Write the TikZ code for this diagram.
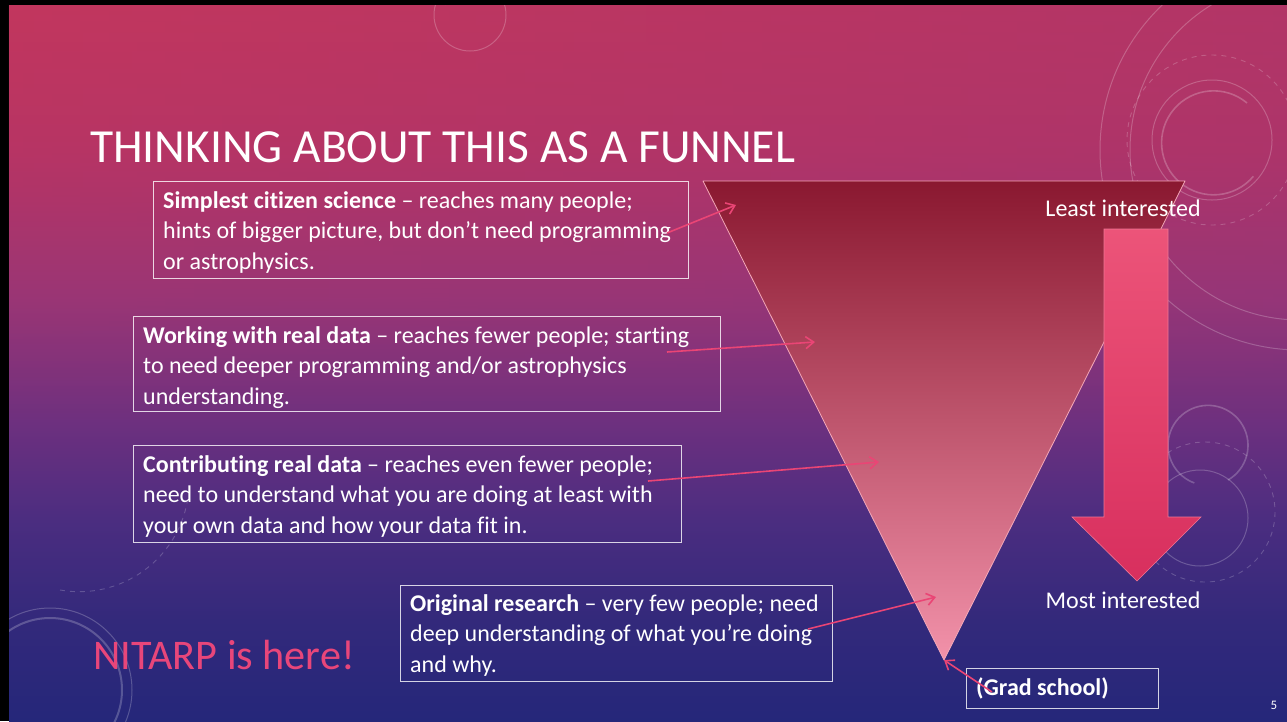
\documentclass[tikz,border=0pt]{standalone}
\usepackage{fontspec}
\setmainfont{Carlito}[Ligatures={NoCommon}]
\usetikzlibrary{arrows.meta,fadings}

% palette
\definecolor{bgA}{HTML}{C2365E}
\definecolor{bgB}{HTML}{B43466}
\definecolor{bgC}{HTML}{953578}
\definecolor{bgD}{HTML}{6E307F}
\definecolor{bgE}{HTML}{4B2D80}
\definecolor{bgF}{HTML}{33297B}
\definecolor{bgG}{HTML}{25277A}
\definecolor{funnelTop}{HTML}{8A1830}
\definecolor{funnelBot}{HTML}{F292AA}
\definecolor{funnelEdge}{HTML}{F4A8B8}
\definecolor{arrowTop}{HTML}{EC5479}
\definecolor{arrowBot}{HTML}{D82F5E}
\definecolor{pointer}{HTML}{EA4575}
\definecolor{nitarp}{HTML}{E8467A}

\tikzset{
  infobox/.style={draw=white, draw opacity=0.8, line width=1pt, inner sep=0pt},
  infotext/.style={text=white, align=left, anchor=north west, inner sep=0pt,
    font=\fontsize{24}{30.5}\selectfont},
  sidelabel/.style={text=white, inner sep=0pt, font=\fontsize{24}{29}\selectfont},
  pointerline/.style={draw=pointer, line width=1.6pt, -{Straight Barb[length=8pt,width=12pt,line width=1.6pt]}},
  ornament/.style={draw=white, opacity=0.22, line width=1pt},
  ornamentdash/.style={draw=white, opacity=0.2, line width=0.9pt, dash pattern=on 5pt off 5pt},
}

\begin{document}
\begin{tikzpicture}[x=1pt,y=-1pt]
\useasboundingbox (0,0) rectangle (1287,721);

% slide background, banded vertical gradient
\fill[black] (0,0) rectangle (1287,721);
\shade[top color=bgA, bottom color=bgB] (9,5) rectangle (1287,151);
\shade[top color=bgB, bottom color=bgC] (9,150) rectangle (1287,301);
\shade[top color=bgC, bottom color=bgD] (9,300) rectangle (1287,421);
\shade[top color=bgD, bottom color=bgE] (9,420) rectangle (1287,521);
\shade[top color=bgE, bottom color=bgF] (9,520) rectangle (1287,621);
\shade[top color=bgF, bottom color=bgG] (9,620) rectangle (1287,721);
% violet tint toward the right of the upper part, fading out downwards
\shade[left color=bgA, right color=bgC, opacity=0.35, path fading=south]
  (9,5) rectangle (1287,420);

% faint ornaments
\begin{scope}
\clip (9,5) rectangle (1287,721);
\draw[ornament] (470,15) circle[radius=36];
\draw[ornament, line width=1.4pt] (445,5) arc[start angle=180, end angle=300, radius=30];
\draw[ornament] (1300,150) circle[radius=200];
\draw[ornament] (1300,150) circle[radius=170];
\draw[ornament, line width=1.6pt] (1247,103) arc[start angle=-50, end angle=-320, radius=52];
\draw[ornament] (1212,140) circle[radius=60];
\draw[ornamentdash] (1212,140) circle[radius=85];
\draw[ornament, line width=1.6pt] (1228,480) arc[start angle=60, end angle=-250, radius=40];
\draw[ornament] (1200,518) circle[radius=48];
\draw[ornamentdash] (1205,512) circle[radius=70];
\draw[ornament, line width=2pt] (50,690) circle[radius=72];
\draw[ornament] (50,690) circle[radius=82];
\draw[ornamentdash] (60,590) arc[start angle=100, end angle=10, radius=110];
\end{scope}

% funnel
\coordinate (fTL) at (703,181);
\coordinate (fTR) at (1185,181);
\coordinate (fTip) at (944,660);
\shade[top color=funnelTop, bottom color=funnelBot] (fTL) -- (fTR) -- (fTip) -- cycle;
\draw[funnelEdge, line width=0.8pt, line join=round] (fTL) -- (fTR) -- (fTip) -- cycle;

% interest arrow
\shade[top color=arrowTop, bottom color=arrowBot, draw=arrowTop!80!white, line width=0.6pt]
  (1104,229) -- (1168,229) -- (1168,517) -- (1201,517) -- (1137,581)
  -- (1072,517) -- (1104,517) -- cycle;

\node[sidelabel] (least) at (1123,208) {Least interested};
\node[sidelabel] (most) at (1123,600) {Most interested};

% title
\node[text=white, anchor=west, inner sep=0pt, font=\fontsize{47.5}{52}\selectfont]
  (title) at (90,147) {THINKING ABOUT THIS AS A FUNNEL};

% level boxes
\node[infobox, minimum width=535pt, minimum height=97pt] (box1) at (420.5,229.5) {};
\node[infobox, minimum width=587pt, minimum height=95pt] (box2) at (426.5,363.5) {};
\node[infobox, minimum width=548pt, minimum height=97pt] (box3) at (407,493.5) {};
\node[infobox, minimum width=432pt, minimum height=96pt] (box4) at (616,633) {};
\node[infobox, minimum width=192pt, minimum height=40pt] (box5) at (1062,688) {};

\node[infotext] (text1) at (163,191) {\textbf{Simplest citizen science} – reaches many people;\\
hints of bigger picture, but don’t need programming\\ or astrophysics.};
\node[infotext] (text2) at (143,326) {\textbf{Working with real data} – reaches fewer people; starting\\
to need deeper programming and/or astrophysics\\ understanding.};
\node[infotext] (text3) at (143,455) {\textbf{Contributing real data} – reaches even fewer people;\\
need to understand what you are doing at least with\\ your own data and how your data fit in.};
\node[infotext] (text4) at (410,594) {\textbf{Original research} – very few people; need\\
deep understanding of what you’re doing\\ and why.};
\node[sidelabel, anchor=west] (grad) at (976,688) {\textbf{(Grad school)}};

\node[text=nitarp, anchor=west, inner sep=0pt, font=\fontsize{42.2}{48}\selectfont]
  (here) at (93,655) {NITARP is here!};

% pointers into the funnel
\coordinate (p1s) at (667,233);
\coordinate (p1e) at (736,205);
\coordinate (p2s) at (667,352);
\coordinate (p2e) at (815,342);
\coordinate (p3s) at (648,481);
\coordinate (p3e) at (879,462);
\coordinate (p4s) at (808,629);
\coordinate (p4e) at (936,597);
\coordinate (p5s) at (992,692);
\draw[pointerline] (p1s) -- (p1e);
\draw[pointerline] (p2s) -- (p2e);
\draw[pointerline] (p3s) -- (p3e);
\draw[pointerline] (p4s) -- (p4e);
\draw[pointerline] (p5s) -- (fTip);

\node[text=white, inner sep=0pt, font=\fontsize{13}{15}\selectfont] (pagenum) at (1274,705) {5};
\end{tikzpicture}
\end{document}
